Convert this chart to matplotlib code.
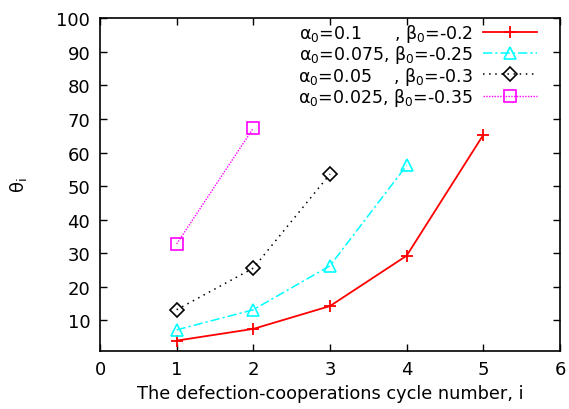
import matplotlib
matplotlib.use("Agg")
import matplotlib.pyplot as plt

plt.rcParams['font.family'] = ['DejaVu Sans']
plt.rcParams['mathtext.fontset'] = 'dejavusans'

x1 = [1, 2, 3, 4, 5]
y1 = [4.0, 7.5, 14.3, 29.3, 65.3]
x2 = [1, 2, 3, 4]
y2 = [7.2, 13.2, 26.3, 56.2]
x3 = [1, 2, 3]
y3 = [13.2, 25.6, 53.6]
x4 = [1, 2]
y4 = [32.8, 67.3]
labels = ["α$_0$=0.1      , β$_0$=-0.2",
          "α$_0$=0.075, β$_0$=-0.25",
          "α$_0$=0.05    , β$_0$=-0.3",
          "α$_0$=0.025, β$_0$=-0.35"]
xticks = [0, 1, 2, 3, 4, 5, 6]
yticks = [10, 20, 30, 40, 50, 60, 70, 80, 90, 100]

fig = plt.figure(figsize=(5.69, 4.10), dpi=100)
ax = fig.add_axes([100/569, 1-351.7/410, 460/569, (351.7-19.3)/410])

ax.plot(x1, y1, color='#ff0000', lw=1.3, ls='-', marker='+', ms=9, mew=1.3, label=labels[0])
ax.plot(x2, y2, color='#00ffff', lw=1.1, ls=(0, (6, 2, 1.5, 2)), marker='^', ms=9, mfc='none', mew=1.2, label=labels[1])
ax.plot(x3, y3, color='#000000', lw=1.1, ls=(0, (1, 3)), marker='D', ms=7, mfc='none', mew=1.2, label=labels[2])
ax.plot(x4, y4, color='#ff00ff', lw=1.0, ls=(0, (1, 1)), marker='s', ms=8.5, mfc='none', mew=1.2, label=labels[3])

ax.set_xlim(0, 6)
ax.set_ylim(1, 100)
ax.set_xticks(xticks)
ax.set_yticks(yticks)
ax.tick_params(direction='in', top=True, right=True, length=5, width=1, labelsize=13, pad=7)
for s in ax.spines.values():
    s.set_linewidth(1.2)

ax.set_xlabel("The defection-cooperations cycle number, i", fontsize=12.8, labelpad=4)
ax.set_ylabel("θ$_\\mathrm{i}$", fontsize=13, labelpad=20)

leg = ax.legend(loc='upper right', frameon=False, markerfirst=False, fontsize=12.5,
                handlelength=3.1, handletextpad=0.6, labelspacing=-0.05,
                borderaxespad=0.0, borderpad=0.0,
                bbox_to_anchor=(1 - 23/460, 1 - 4/332))

fig.savefig("out.png", dpi=100)
